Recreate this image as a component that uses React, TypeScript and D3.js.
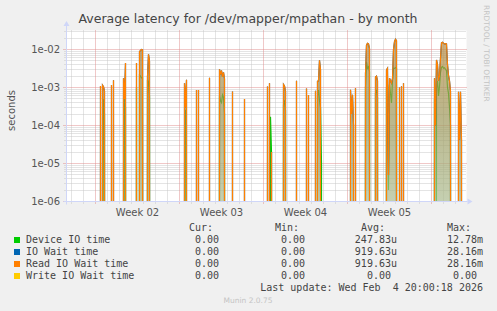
import React, { useEffect, useRef } from 'react';
import * as d3 from 'd3';

const title = 'Average latency for /dev/mapper/mpathan - by month';
const startTime = Date.UTC(2026, 0, 2, 14);
const endTime = Date.UTC(2026, 1, 4, 22);

// sample times in hours after startTime (2h steps); every burst opens and closes on a zero sample
const sampleHours = [
  66, 68, 70, 72, 74, 76, 78,
  88, 90, 92, 94, 96,
  112, 114, 116, 118, 120,
  138, 140, 142, 144, 146, 148, 150, 152, 154, 160, 162, 164, 166, 168,
  234, 236, 238, 240, 242,
  258, 260, 262, 264, 266,
  284, 286, 288,
  304, 306, 308, 310, 312, 314, 316, 318,
  330, 332, 334,
  354, 356, 358,
  400, 402, 404, 406, 408, 410, 412,
  432, 434, 436, 438, 440,
  458, 460, 462,
  478, 480, 482, 484, 486,
  496, 498, 500, 502, 504, 506, 508, 510, 512,
  566, 568, 570, 572, 574, 576, 578, 580,
  596, 598, 600, 602, 604, 606, 608, 616, 618, 620, 622, 624,
  638, 640, 642, 644, 646, 648, 650, 652, 654, 656, 658, 660, 662, 664, 666, 668, 670, 672, 674, 676,
  734, 736, 738, 740, 742, 744, 746, 748, 750, 752, 754, 756, 758, 760, 762, 764, 766, 768, 770,
  782, 784, 786, 788, 790, 792,
];

// seconds
const deviceIoTime = [
  0, 0, 0, 0, 4.9e-4, 2e-4, 0,
  0, 0, 0, 0, 0,
  0, 0, 5.2e-4, 3e-4, 0,
  0, 1e-3, 0, 0, 2.1e-3, 2e-3, 1.8e-3, 1.8e-3, 0, 0, 1.6e-3, 1.4e-3, 5.9e-4, 0,
  0, 0, 2.6e-4, 0, 0,
  0, 0, 0, 0, 0,
  0, 0, 0,
  0, 6e-4, 4.5e-4, 4e-4, 6.4e-4, 5.5e-4, 2e-4, 0,
  0, 0, 0,
  0, 0, 0,
  0, 0, 0, 0, 1.7e-4, 2e-5, 0,
  0, 3.5e-4, 4.6e-4, 2.5e-4, 0,
  0, 0, 0,
  0, 0, 0, 0, 0,
  0, 0, 0, 6e-4, 8.6e-4, 4.5e-4, 3e-4, 1e-5, 0,
  0, 0, 0, 0, 0, 0, 0, 0,
  0, 1e-3, 4.7e-3, 3.2e-3, 3.5e-3, 2.6e-3, 0, 0, 7e-4, 8.7e-4, 5.5e-4, 0,
  0, 1e-3, 1.2e-3, 2e-6, 1.2e-3, 7e-4, 3.9e-4, 1.5e-3, 3.2e-3, 3.2e-3, 3.3e-3, 3.2e-3, 0, 0, 0, 0, 0, 0, 0, 0,
  0, 5e-4, 0, 9.6e-4, 1.5e-3, 6e-4, 1.06e-3, 2.5e-3, 3.4e-3, 3.6e-3, 3.2e-3, 3.3e-3, 3e-3, 2.8e-3, 1e-3, 7e-4, 3e-4, 1e-4, 0,
  0, 0, 0, 0, 0, 0,
];

const readIoWaitTime = [
  0, 1.1e-3, 0, 1.15e-3, 1.05e-3, 8e-4, 0,
  0, 1.17e-3, 0, 1.55e-3, 0,
  0, 1.75e-3, 5e-4, 4.4e-3, 0,
  0, 4.4e-3, 0, 0, 8.8e-3, 9.5e-3, 1e-2, 9.8e-3, 0, 0, 1.95e-3, 7.5e-3, 5e-3, 0,
  0, 1.3e-3, 3e-4, 1.6e-3, 0,
  0, 8.6e-4, 0, 8.6e-4, 0,
  0, 1.8e-3, 0,
  0, 3e-3, 2.2e-3, 2.8e-3, 1.9e-3, 2.5e-3, 1.7e-3, 0,
  0, 7.8e-4, 0,
  0, 5e-4, 0,
  0, 1.06e-3, 0, 1.3e-3, 0, 2e-5, 0,
  0, 1.2e-3, 1.1e-3, 8e-4, 0,
  0, 1.5e-3, 0,
  0, 9.4e-4, 0, 6.3e-4, 0,
  0, 8.2e-4, 0, 1.45e-3, 1.5e-3, 5.2e-3, 3e-3, 0, 0,
  0, 8.7e-4, 2e-4, 6.4e-4, 1e-4, 0, 9.6e-4, 0,
  0, 2.3e-3, 1.3e-2, 1.45e-2, 1.4e-2, 1.06e-2, 0, 0, 1.9e-3, 2e-3, 1.5e-3, 0,
  0, 2.9e-3, 3.2e-3, 5e-6, 1.75e-3, 1.5e-3, 1.3e-3, 1.7e-3, 1e-2, 1.6e-2, 1.85e-2, 1.7e-2, 0, 0, 1e-3, 0, 1.08e-3, 0, 1.3e-3, 0,
  0, 1.75e-3, 1e-4, 5.3e-3, 4e-3, 1.5e-3, 2e-3, 6e-3, 1.5e-2, 1.55e-2, 1.45e-2, 1.4e-2, 1.42e-2, 1.4e-2, 4e-3, 2.1e-3, 1.5e-3, 8e-4, 0,
  0, 7.7e-4, 4.2e-5, 7.7e-4, 4e-5, 0,
];

// IO wait equals read wait for this device (same avg and max)
const ioWaitTime = readIoWaitTime;
// write wait stays at zero the whole month
const writeIoWaitTime: number[] = [];

const legendNames = ['Device IO time', 'IO Wait time', 'Read IO Wait time', 'Write IO Wait time'];
const legendColors = ['#00cc00', '#0066b3', '#ff8000', '#ffcc00'];
const curValues = ['0.00', '0.00', '0.00', '0.00'];
const minValues = ['0.00', '0.00', '0.00', '0.00'];
const avgValues = ['247.83u', '919.63u', '919.63u', '0.00'];
const maxValues = ['12.78m', '28.16m', '28.16m', '0.00'];
const statHeaders = ['Cur:', 'Min:', 'Avg:', 'Max:'];
const lastUpdate = 'Last update: Wed Feb  4 20:00:18 2026';

const yTicks = [1e-6, 1e-5, 1e-4, 1e-3, 1e-2];

export default function App() {
  const ref = useRef<SVGSVGElement>(null);

  useEffect(() => {
    const svg = d3.select(ref.current);
    svg.selectAll('*').remove();

    const left = 66.5, right = 466.5, top = 30.5, bottom = 201.5;
    const x = d3.scaleUtc().domain([new Date(startTime), new Date(endTime)]).range([left, right]);
    const y = d3.scaleLog().domain([1e-6, Math.pow(10, -1.5)]).range([bottom, top]);
    const crisp = (v: number) => Math.round(v - 0.5) + 0.5;
    const sans = 'DejaVu Sans, sans-serif';
    const mono = 'DejaVu Sans Mono, monospace';

    svg.append('rect').attr('width', 497).attr('height', 311).attr('fill', '#f0f0f0');
    svg.append('rect').attr('x', left).attr('y', top).attr('width', right - left).attr('height', bottom - top).attr('fill', '#fff');

    // minor / major horizontal grid
    const minorY: number[] = [];
    for (let e = -6; e <= -2; e++) {
      for (let k = 2; k <= 9; k++) {
        const v = k * Math.pow(10, e);
        if (v < y.domain()[1]) minorY.push(v);
      }
    }
    svg.append('g').selectAll('line').data(minorY).join('line')
      .attr('x1', left - 2).attr('x2', right)
      .attr('y1', d => crisp(y(d))).attr('y2', d => crisp(y(d)))
      .attr('stroke', '#c8c8c8').attr('stroke-dasharray', '1,1');

    // daily vertical grid, mondays in red
    const days = d3.utcDay.range(new Date(startTime), new Date(endTime));
    svg.append('g').selectAll('line').data(days.filter(d => d.getUTCDay() !== 1)).join('line')
      .attr('x1', d => crisp(x(d))).attr('x2', d => crisp(x(d)))
      .attr('y1', top).attr('y2', bottom + 2)
      .attr('stroke', '#c8c8c8').attr('stroke-dasharray', '1,1');

    svg.append('g').selectAll('line').data(yTicks).join('line')
      .attr('x1', left - 3).attr('x2', right)
      .attr('y1', d => crisp(y(d))).attr('y2', d => crisp(y(d)))
      .attr('stroke', '#e09090').attr('stroke-dasharray', '1,1');
    svg.append('g').selectAll('line').data(days.filter(d => d.getUTCDay() === 1)).join('line')
      .attr('x1', d => crisp(x(d))).attr('x2', d => crisp(x(d)))
      .attr('y1', top).attr('y2', bottom + 3)
      .attr('stroke', '#e09090').attr('stroke-dasharray', '1,1');

    // series
    const defs = svg.append('defs');
    defs.append('clipPath').attr('id', 'plot-clip')
      .append('rect').attr('x', left).attr('y', top - 1).attr('width', right - left).attr('height', bottom - top + 1);
    const grad = defs.append('linearGradient').attr('id', 'spike-fill')
      .attr('gradientUnits', 'userSpaceOnUse').attr('x1', 0).attr('x2', 0).attr('y1', top).attr('y2', bottom);
    grad.append('stop').attr('offset', 0).attr('stop-color', '#bd8c45');
    grad.append('stop').attr('offset', 0.5).attr('stop-color', '#a09a5e');
    grad.append('stop').attr('offset', 1).attr('stop-color', '#aebd92');

    const yv = (v: number) => (v > 0 ? y(v) : bottom + 3000);
    const xv = (i: number) => x(new Date(startTime + sampleHours[i] * 3600e3));
    const plot = svg.append('g').attr('clip-path', 'url(#plot-clip)');

    const line = d3.line<number>().x((_, i) => xv(i)).y(d => yv(d));
    const area = d3.area<number>().x((_, i) => xv(i)).y0(bottom + 3000).y1(d => yv(d));

    const drawLine = (s: number[], color: string) => {
      if (s.length === 0) return;
      plot.append('path').attr('d', line(s)).attr('fill', 'none')
        .attr('stroke', color).attr('stroke-width', 1.2);
    };

    // rrdtool draw order: device, io wait, read, write; the shaded body blends the dense strokes
    drawLine(deviceIoTime, legendColors[0]);
    plot.append('path').attr('d', area(readIoWaitTime)).attr('fill', 'url(#spike-fill)').attr('opacity', 0.72);
    drawLine(ioWaitTime, legendColors[1]);
    drawLine(readIoWaitTime, legendColors[2]);
    drawLine(writeIoWaitTime, legendColors[3]);

    // axes with arrows
    const axisColor = '#cfd6f8';
    svg.append('line').attr('x1', left).attr('x2', left).attr('y1', bottom + 3).attr('y2', 25).attr('stroke', axisColor);
    svg.append('path').attr('d', `M${left - 3},26 L${left + 3},26 L${left},21 Z`).attr('fill', axisColor);
    svg.append('line').attr('x1', left - 3).attr('x2', right + 1).attr('y1', bottom).attr('y2', bottom).attr('stroke', axisColor);
    svg.append('path').attr('d', `M${right + 1},${bottom - 3} L${right + 1},${bottom + 3} L${right + 6},${bottom} Z`).attr('fill', axisColor);

    // y tick labels
    svg.append('g').selectAll('text').data(yTicks).join('text')
      .attr('x', 60).attr('y', d => crisp(y(d)) + 3.5)
      .attr('text-anchor', 'end').attr('font-family', sans).attr('font-size', 10).attr('fill', '#555')
      .text(d => `1e-${String(-Math.round(Math.log10(d))).padStart(2, '0')}`);

    // week labels, centred in each week
    const weekCentres = d3.utcMonday.range(new Date(startTime - 7 * 864e5), new Date(endTime))
      .map(d => new Date(d.getTime() + 3.5 * 864e5))
      .filter(d => d.getTime() > startTime && d.getTime() < endTime);
    svg.append('g').selectAll('text').data(weekCentres).join('text')
      .attr('x', d => x(d)).attr('y', 216)
      .attr('text-anchor', 'middle').attr('font-family', sans).attr('font-size', 10).attr('fill', '#555')
      .text(d => `Week ${d3.utcFormat('%V')(d)}`);

    svg.append('text').attr('x', 248).attr('y', 23).attr('text-anchor', 'middle')
      .attr('font-family', sans).attr('font-size', 12.5).attr('fill', '#444').text(title);
    svg.append('text').attr('transform', 'translate(15,110.5) rotate(-90)').attr('text-anchor', 'middle')
      .attr('font-family', sans).attr('font-size', 10).attr('fill', '#555').text('seconds');
    svg.append('text').attr('transform', 'translate(484,5) rotate(90)')
      .attr('font-family', sans).attr('font-size', 7.5).attr('fill', '#c4c4c4').text('RRDTOOL / TOBI OETIKER');

    // legend
    const colEnds = [225, 311, 397, 483];
    const legend = svg.append('g').attr('font-family', mono).attr('font-size', 10).attr('fill', '#444');
    statHeaders.forEach((h, c) => {
      legend.append('text').attr('x', colEnds[c] - 12).attr('y', 231).attr('text-anchor', 'end').text(h);
    });
    const cols = [curValues, minValues, avgValues, maxValues];
    legendNames.forEach((name, r) => {
      const base = 243 + r * 12;
      legend.append('rect').attr('x', 14).attr('y', base - 6).attr('width', 6).attr('height', 6).attr('fill', legendColors[r]);
      legend.append('text').attr('x', 26).attr('y', base).text(name);
      cols.forEach((col, c) => {
        const v = col[r];
        const hasSuffix = /[a-zA-Z]$/.test(v);
        legend.append('text').attr('x', colEnds[c] - (hasSuffix ? 0 : 6)).attr('y', base)
          .attr('text-anchor', 'end').text(v);
      });
    });
    legend.append('text').attr('x', 483).attr('y', 291).attr('text-anchor', 'end')
      .attr('xml:space', 'preserve').style('white-space', 'pre').text(lastUpdate);

    svg.append('text').attr('x', 248).attr('y', 303).attr('text-anchor', 'middle')
      .attr('font-family', sans).attr('font-size', 7.5).attr('fill', '#c4c4c4').text('Munin 2.0.75');
  }, []);

  return <svg ref={ref} width={497} height={311} style={{ position: 'absolute', left: 0, top: 0 }} />;
}
